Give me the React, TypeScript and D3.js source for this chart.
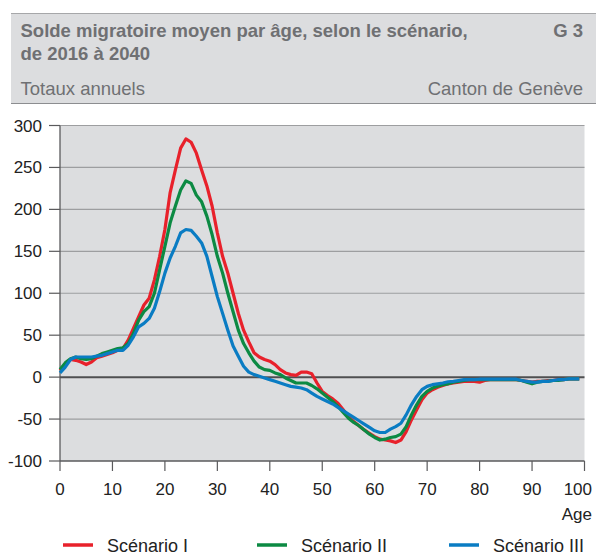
import * as d3 from "d3";

// Solde migratoire moyen par âge (0 à 99 ans), selon le scénario
const ages = d3.range(0, 100);

const scenarioI = [
  8, 15, 21, 20, 18, 15, 18, 23, 25, 27,
  29, 32, 34, 44, 58, 72, 86, 94, 116, 144,
  176, 220, 247, 273, 284, 280, 267, 247, 228, 204,
  172, 144, 124, 100, 76, 56, 42, 29, 24, 21,
  19, 15, 9, 5, 3, 2, 6, 6, 4, -7,
  -17, -22, -26, -31, -39, -47, -53, -58, -63, -67,
  -71, -74, -75, -76, -78, -75, -65, -51, -39, -27,
  -19, -15, -12, -10, -8, -7, -6, -5, -5, -5,
  -6, -4, -3, -3, -3, -3, -3, -3, -4, -5,
  -6, -5, -5, -4, -4, -3, -3, -2, -2, -2,
];

const scenarioII = [
  9, 17, 22, 24, 22, 21, 22, 25, 28, 30,
  32, 34, 35, 40, 52, 68, 78, 84, 100, 128,
  156, 184, 204, 223, 234, 231, 217, 209, 192, 170,
  144, 124, 100, 78, 56, 40, 29, 19, 12, 9,
  8, 5, 3, -1, -4, -7, -7, -7, -10, -14,
  -19, -24, -29, -35, -42, -49, -54, -58, -63, -68,
  -72, -75, -74, -72, -71, -68, -59, -45, -33, -23,
  -17, -13, -11, -9, -8, -6, -5, -4, -3, -3,
  -3, -3, -3, -3, -3, -3, -3, -3, -4, -6,
  -8, -6, -5, -5, -4, -4, -3, -2, -2, -2,
];

const scenarioIII = [
  5, 12, 21, 24, 24, 24, 24, 25, 26, 28,
  30, 32, 32, 38, 48, 60, 64, 70, 82, 102,
  124, 142, 156, 172, 176, 175, 168, 160, 144, 120,
  96, 76, 56, 37, 25, 13, 6, 3, 1, -1,
  -3, -5, -7, -9, -11, -12, -13, -15, -19, -23,
  -26, -29, -32, -36, -40, -44, -48, -52, -56, -60,
  -64, -66, -66, -62, -59, -55, -45, -33, -23, -15,
  -11, -9, -8, -7, -5.5, -5, -4, -3, -3, -3,
  -2.5, -2.5, -2.5, -2.5, -2.5, -2.5, -2.5, -2.5, -4, -5,
  -6, -6, -5, -5, -4, -3, -3, -2, -2, -2,
];

const seriesNames = ["Scénario I", "Scénario II", "Scénario III"];
const seriesColors = ["#e8212b", "#0c8a43", "#0a7cc3"];
const yTicks = [-100, -50, 0, 50, 100, 150, 200, 250, 300];
const xTicks = [0, 10, 20, 30, 40, 50, 60, 70, 80, 90, 100];

const W = 596;
const H = 556;
const font = "'Liberation Sans', Arial, sans-serif";
const headerText = "#6f7073";

export default function App() {
  const x = d3.scaleLinear().domain([0, 100]).range([60, 584.5]);
  const y = d3.scaleLinear().domain([-100, 300]).range([461, 125.5]);

  const line = d3
    .line<number>()
    .x((_, i) => x(ages[i]))
    .y((d) => y(d));

  const series = [scenarioI, scenarioII, scenarioIII];
  const legendX = [63, 257, 449];

  return (
    <svg
      width={W}
      height={H}
      style={{ position: "absolute", left: 0, top: 0, display: "block" }}
      fontFamily={font}
    >
      <rect width={W} height={H} fill="#fff" />

      {/* header */}
      <rect x={11} y={13} width={W - 11} height={91} fill="#dcdddf" />
      <line x1={11} x2={W} y1={13.5} y2={13.5} stroke="#a6a7a9" />
      <line x1={11} x2={W} y1={103.5} y2={103.5} stroke="#8c8d90" />
      <text x={20.5} y={37} fontSize={18.5} fontWeight="bold" fill={headerText}>
        Solde migratoire moyen par âge, selon le scénario,
      </text>
      <text x={20.5} y={60} fontSize={18.5} fontWeight="bold" fill={headerText}>
        de 2016 à 2040
      </text>
      <text x={583} y={37} fontSize={18.5} fontWeight="bold" fill={headerText} textAnchor="end">
        G 3
      </text>
      <text x={20.5} y={95} fontSize={18.5} fill={headerText}>
        Totaux annuels
      </text>
      <text x={583} y={95} fontSize={18.5} fill={headerText} textAnchor="end">
        Canton de Genève
      </text>

      {/* plot area */}
      <rect
        x={x(0)}
        y={y(300)}
        width={x(100) - x(0)}
        height={y(-100) - y(300)}
        fill="#dcdddf"
      />
      {yTicks
        .filter((t) => t !== 0 && t !== -100)
        .map((t) => (
          <line
            key={t}
            x1={x(0)}
            x2={x(100)}
            y1={y(t)}
            y2={y(t)}
            stroke="#9d9ea0"
            strokeWidth={1.2}
          />
        ))}

      {/* y axis */}
      <line x1={x(0)} x2={x(0)} y1={y(300)} y2={y(-100)} stroke="#5a5a5c" strokeWidth={1.3} />
      {yTicks.map((t) => (
        <g key={t}>
          <line x1={x(0) - 11} x2={x(0)} y1={y(t)} y2={y(t)} stroke="#5a5a5c" strokeWidth={1.2} />
          <text
            x={42}
            y={y(t) + 6}
            fontSize={17}
            fill="#222"
            textAnchor="end"
          >
            {t}
          </text>
        </g>
      ))}

      {/* x axis */}
      <line x1={x(0)} x2={x(100)} y1={y(-100)} y2={y(-100)} stroke="#5a5a5c" strokeWidth={1.3} />
      {xTicks.map((t) => (
        <g key={t}>
          <line x1={x(t)} x2={x(t)} y1={y(-100)} y2={y(-100) + 10} stroke="#5a5a5c" strokeWidth={1.2} />
          <text
            x={t === 100 ? 592 : x(t)}
            y={495}
            fontSize={17}
            fill="#222"
            textAnchor={t === 100 ? "end" : "middle"}
          >
            {t}
          </text>
        </g>
      ))}
      <text x={592} y={520} fontSize={17} fill="#222" textAnchor="end">
        Age
      </text>

      {/* zero line */}
      <line x1={x(0)} x2={x(100)} y1={y(0)} y2={y(0)} stroke="#4f4f51" strokeWidth={2} />

      {/* series */}
      {series.map((s, i) => (
        <path
          key={seriesNames[i]}
          d={line(s) ?? ""}
          fill="none"
          stroke={seriesColors[i]}
          strokeWidth={3.2}
          strokeLinejoin="round"
        />
      ))}

      {/* legend */}
      {seriesNames.map((name, i) => (
        <g key={name}>
          <line
            x1={legendX[i]}
            x2={legendX[i] + 30}
            y1={545}
            y2={545}
            stroke={seriesColors[i]}
            strokeWidth={3.5}
          />
          <text x={legendX[i] + 44} y={552} fontSize={18} fill="#222">
            {name}
          </text>
        </g>
      ))}
    </svg>
  );
}
